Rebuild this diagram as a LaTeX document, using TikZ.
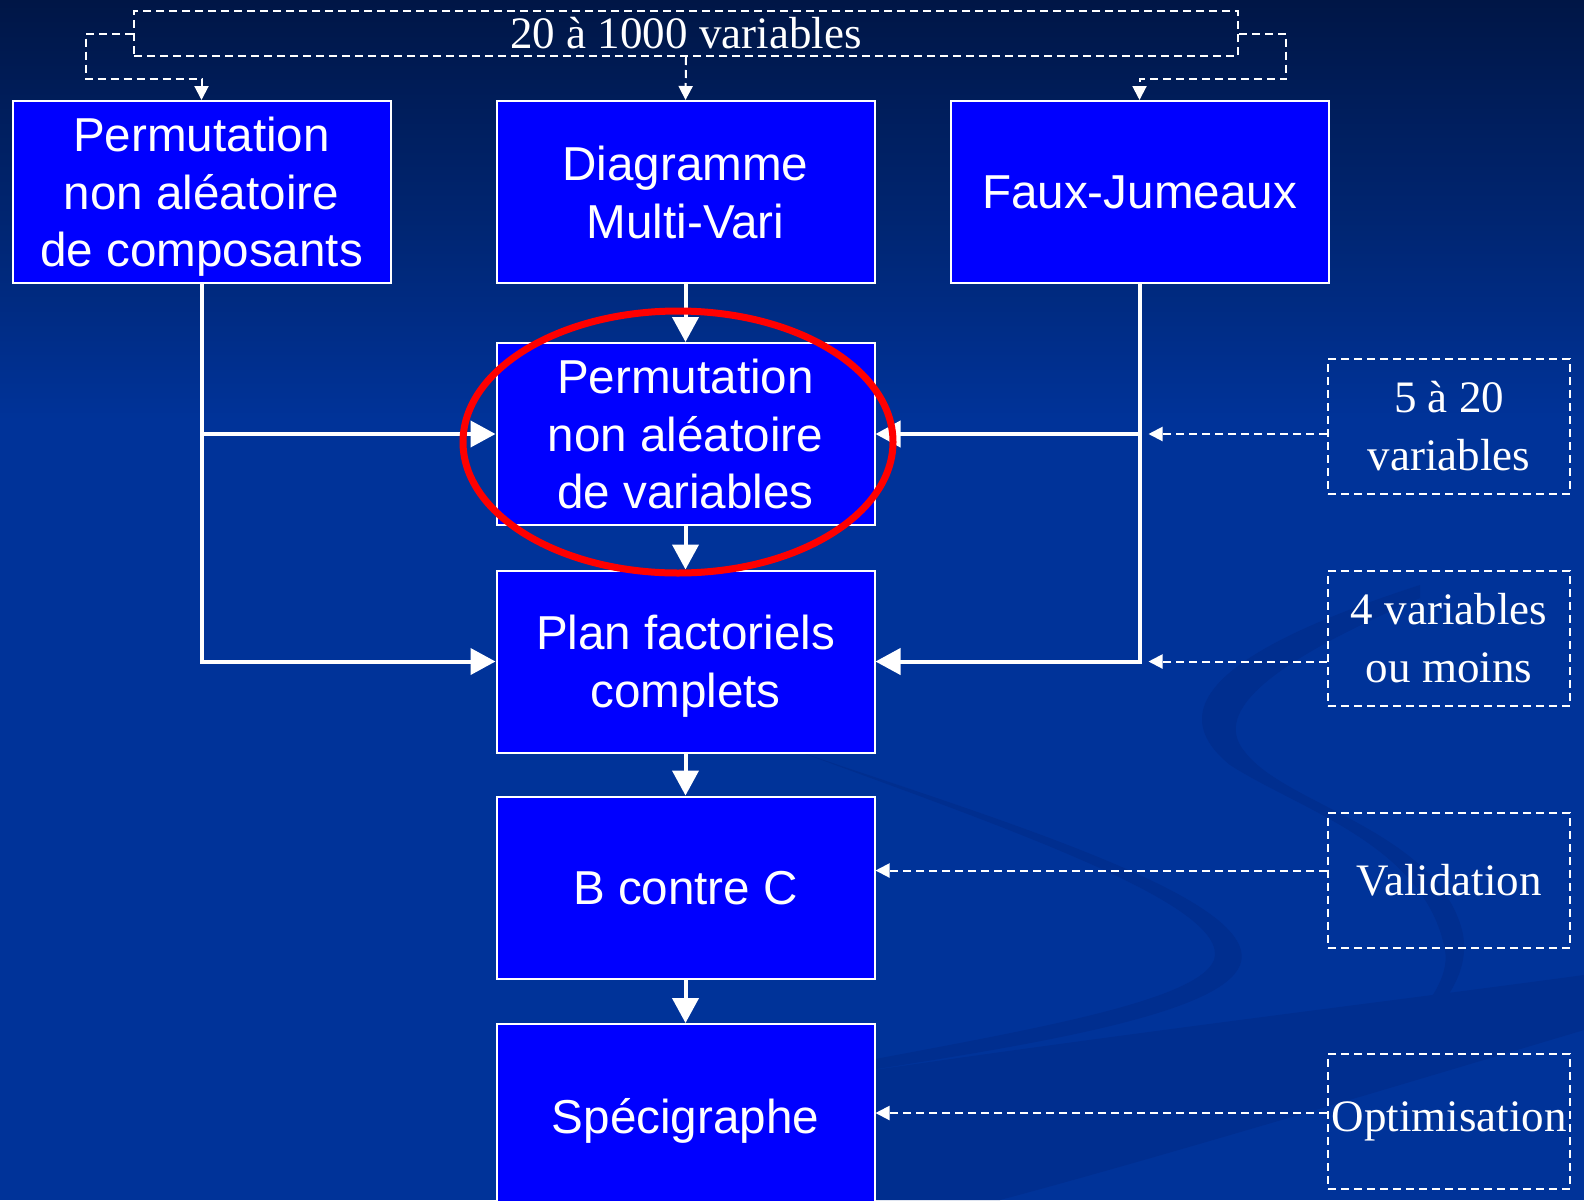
\documentclass[tikz,border=0pt]{standalone}
\usepackage{fontspec}
\setmainfont{Liberation Serif}
\newfontfamily\arialfont{Liberation Sans}
\usetikzlibrary{arrows.meta,calc,shapes.geometric}
\definecolor{bgtop}{RGB}{0,22,70}
\definecolor{bgmain}{RGB}{0,51,153}
\definecolor{swoosh}{RGB}{0,46,143}
\definecolor{boxblue}{RGB}{0,0,255}
\tikzset{
  stepbox/.style={draw=white, line width=2pt, fill=boxblue, text=white,
    minimum width=378pt, minimum height=182pt, inner sep=0pt, align=center,
    text depth=0pt, font=\arialfont\fontsize{47.6}{57.6}\selectfont},
  notebox/.style={draw=white, line width=2pt, dash pattern=on 8pt off 5pt, text=white,
    minimum width=242pt, minimum height=135pt, inner sep=0pt, align=center,
    font=\fontsize{45}{58}\selectfont},
  solidarrow/.style={draw=white, line width=4pt, -{Triangle[width=26pt,length=25pt]}},
  dasharrow/.style={draw=white, line width=2pt, dash pattern=on 8pt off 5pt,
    -{Triangle[width=14pt,length=14pt]}},
}
\begin{document}
\begin{tikzpicture}[x=1pt,y=-1pt]
\useasboundingbox (0,0) rectangle (1584,1200);
\clip (0,0) rectangle (1584,1200);
% background
\shade[top color=bgtop, bottom color=bgmain] (0,0) rectangle (1584,420);
\fill[bgmain] (0,419) rectangle (1584,1200);
% decorative swooshes
\fill[swoosh] (860,1072) .. controls (1150,1030) and (1400,1000) .. (1584,975)
  -- (1584,1030) .. controls (1400,1085) and (1150,1160) .. (1000,1200) -- (860,1200) -- cycle;
\fill[swoosh] (800,752) .. controls (1000,820) and (1265,900) .. (1240,965)
  .. controls (1222,1012) and (1050,1042) .. (870,1070)
  -- (870,1060) .. controls (1040,1028) and (1198,1000) .. (1214,960)
  .. controls (1232,905) and (1000,826) .. (800,752) -- cycle;
\fill[swoosh] (1420,585) .. controls (1250,640) and (1150,700) .. (1230,765)
  .. controls (1300,810) and (1425,845) .. (1445,950)
  .. controls (1455,1005) and (1350,1080) .. (1290,1112)
  -- (1300,1108) .. controls (1400,1055) and (1478,995) .. (1462,930)
  .. controls (1435,830) and (1285,805) .. (1245,752)
  .. controls (1205,705) and (1300,650) .. (1420,598) -- cycle;

% top label
\node[draw=white, line width=2pt, dash pattern=on 8pt off 5pt, text=white,
  minimum width=1104pt, minimum height=45pt, inner sep=0pt,
  font=\fontsize{45}{50}\selectfont] (top) at (686,33.5) {20 à 1000 variables};

% main boxes
\node[stepbox] (A) at (201.5,192) {Permutation\\non aléatoire\\de composants};
\node[stepbox] (B) at (685.5,192) {Diagramme\\Multi-Vari};
\node[stepbox] (C) at (1139.5,192) {Faux-Jumeaux};
\node[stepbox] (D) at (685.5,434) {Permutation\\non aléatoire\\de variables};
\node[stepbox] (E) at (685.5,661.5) {Plan factoriels\\complets};
\node[stepbox] (F) at (685.5,887.5) {B contre C};
\node[stepbox, minimum height=184pt] (G) at (685.5,1116) {Spécigraphe};

% right labels
\node[notebox] (n1) at (1449,426.5) {5 à 20\\variables};
\node[notebox] (n2) at (1449,638.5) {4 variables\\ou moins};
\node[notebox] (n3) at (1449,880) {Validation};
\node[notebox] (n4) at (1449,1121.5) {Optimisation};

% top dashed connectors
\coordinate (tl) at (86,79);
\coordinate (tr) at (1286,79);
\draw[dasharrow] (top.west) -| (tl) -| (A.north);
\draw[dasharrow] (top.south) -- (B.north);
\draw[dasharrow] (top.east) -| (tr) -| (C.north);

% solid connectors
\draw[solidarrow] (B.south) -- (D.north);
\draw[solidarrow] (D.south) -- (E.north);
\draw[solidarrow] (E.south) -- (F.north);
\draw[solidarrow] (F.south) -- (G.north);
\draw[solidarrow] (A.south) |- (E.west);
\draw[solidarrow] (A.south |- D.west) -- (D.west);
\draw[solidarrow] (C.south) |- (E.east);
\draw[solidarrow] (C.south |- D.east) -- (D.east);

% dashed connectors from right labels
\coordinate (r1) at ($(C.south |- D.east)+(9,0)$);
\coordinate (r2) at ($(C.south |- E.east)+(9,0)$);
\coordinate (r3) at ($(F.north east)+(0,75)$);
\coordinate (r4) at ($(G.north east)+(0,90)$);
\draw[dasharrow] (n1.west |- r1) -- (r1);
\draw[dasharrow] (n2.west |- r2) -- (r2);
\draw[dasharrow] (n3.west |- r3) -- (r3);
\draw[dasharrow] (n4.west |- r4) -- (r4);

% red highlight ellipse
\node[draw=red, line width=7pt, ellipse, minimum width=430pt, minimum height=262pt, inner sep=0pt] (hl) at (678,442) {};
\end{tikzpicture}
\end{document}
